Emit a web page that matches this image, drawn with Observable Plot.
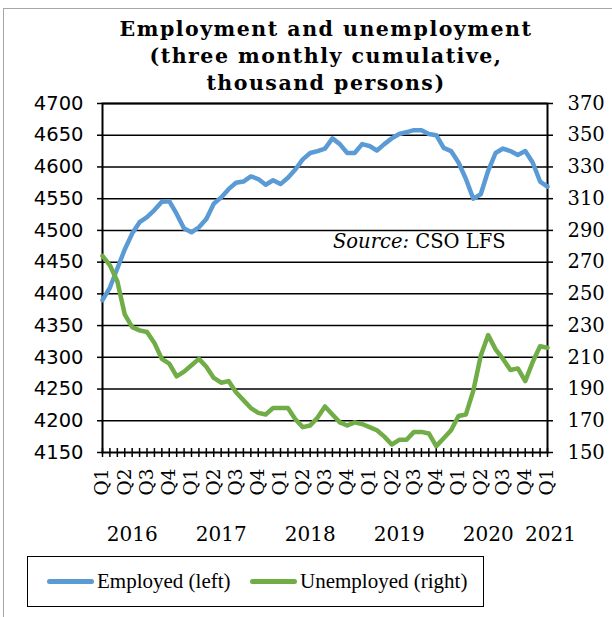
<!DOCTYPE html>
<html><head><meta charset="utf-8">
<script src="https://cdn.jsdelivr.net/npm/d3@7"></script>
<script src="https://cdn.jsdelivr.net/npm/@observablehq/plot@0.6"></script>
<style>
html,body{margin:0;padding:0;background:#fff;overflow:hidden;}
#wrap{position:relative;width:612px;height:617px;overflow:hidden;background:#fff;}
#frame{position:absolute;left:3px;top:8px;width:700px;height:700px;border-left:1px solid #a6a6a6;border-top:1px solid #a6a6a6;}
#chart{position:absolute;left:0;top:0;}
#title{position:absolute;left:0;top:16px;width:652px;text-align:center;font-family:"DejaVu Serif";font-weight:bold;font-size:20.5px;letter-spacing:1.5px;line-height:27px;color:#000;}
#source{position:absolute;left:333px;top:230px;font-family:"DejaVu Serif";font-size:19.5px;color:#000;white-space:nowrap;}
#legend{position:absolute;left:27px;top:556px;width:455px;height:49px;border:1.5px solid #000;}
.item{position:absolute;top:0;height:49px;display:flex;align-items:center;font-family:"Liberation Serif";font-size:21px;color:#000;white-space:nowrap;}
.swatch{display:inline-block;width:47px;height:5px;border-radius:3px;margin-right:3px;}
</style></head>
<body>
<div id="wrap">
  <div id="frame"></div>
  <div id="chart"></div>
  <div id="title">Employment and unemployment<br>(three monthly cumulative,<br>thousand persons)</div>
  <div id="source"><i>Source:</i> CSO LFS</div>
  <div id="legend"></div>
</div>
<script>
// Monthly observations (three-month cumulative), Jan 2016 ... Jan 2021
const employed = [
  4390, 4410, 4440, 4470, 4495, 4513, 4521, 4532, 4545, 4546, 4526, 4503,
  4497, 4505, 4518, 4542, 4552, 4565, 4575, 4577, 4585, 4581, 4572, 4579,
  4573, 4583, 4596, 4612, 4622, 4625, 4629, 4645, 4636, 4622, 4622, 4636,
  4633, 4626, 4636, 4645, 4652, 4655, 4658, 4658, 4652, 4650, 4630, 4625,
  4607, 4581, 4550, 4557, 4594, 4622, 4629, 4625, 4619, 4625, 4607, 4577,
  4569
];
const unemployed = [
  274, 268, 258, 237, 229, 227, 226, 219, 209, 206, 198, 201,
  205, 209, 204, 197, 194, 195, 188, 183, 178, 175, 174, 178,
  178, 178, 171, 166, 167, 172, 179, 174, 169, 167, 169, 168,
  166, 164, 160, 155, 158, 158, 163, 163, 162, 154, 159, 164,
  173, 174, 189, 211, 224, 215, 209, 202, 203, 195, 207, 217,
  216
];
const quarterNames = ["Q1", "Q2", "Q3", "Q4"];
const years = ["2016", "2017", "2018", "2019", "2020", "2021"];
const leftTicks = [4150, 4200, 4250, 4300, 4350, 4400, 4450, 4500, 4550, 4600, 4650, 4700];
const rightTicks = [150, 170, 190, 210, 230, 250, 270, 290, 310, 330, 350, 370];
const seriesNames = ["Employed (left)", "Unemployed (right)"];
const seriesColors = ["#5B9BD5", "#70AD47"];

const startYear = 2016;
const rows = employed.map((e, i) => ({
  i, year: startYear + Math.floor(i / 12), month: i % 12,
  employed: e, unemployed: unemployed[i]
}));

// map right-axis values onto the left scale
const L0 = leftTicks[0], L1 = leftTicks[leftTicks.length - 1];
const R0 = rightTicks[0], R1 = rightTicks[rightTicks.length - 1];
const toLeft = u => L0 + (u - R0) * (L1 - L0) / (R1 - R0);
const toRight = l => R0 + (l - L0) * (R1 - R0) / (L1 - L0);

const quarterRows = rows.filter(d => d.month % 3 === 0)
  .map(d => ({i: d.i, label: quarterNames[d.month / 3]}));
// year labels: full years under their May category, the last (partial) year at its single month
const yearRows = years.map(y => {
  const ys = rows.filter(d => d.year === +y);
  const full = ys.length >= 12;
  return {label: y, i: full ? ys[0].i + 4 : ys[ys.length - 1].i, full};
});

const serif = "DejaVu Serif";
const chart = Plot.plot({
  width: 612,
  height: 617,
  marginLeft: 102,
  marginRight: 65,
  marginTop: 103,
  marginBottom: 165,
  style: {background: "transparent", color: "#000", overflow: "visible"},
  x: {domain: [0, rows.length - 1], axis: null},
  y: {domain: [L0, L1], axis: null},
  marks: [
    Plot.ruleY(leftTicks.slice(1), {stroke: "#000", strokeWidth: 1.5}),
    Plot.axisY({anchor: "left", ticks: leftTicks, tickSize: 5, tickPadding: 14,
      tickFormat: d => String(d), fontSize: 19.5, fontFamily: "DejaVu Sans", strokeWidth: 1.5, label: null}),
    Plot.axisY({anchor: "right", ticks: leftTicks, tickSize: 5, tickPadding: 15,
      tickFormat: d => String(Math.round(toRight(d))), fontSize: 19.5, fontFamily: serif, strokeWidth: 1.5, label: null}),
    Plot.frame({stroke: "#000", strokeWidth: 2}),
    Plot.ruleX(rows, {x: "i", y1: () => L0, y2: () => L0, insetTop: -4, insetBottom: -5, stroke: "#000", strokeWidth: 1.5}),
    Plot.line(rows, {x: "i", y: "employed", stroke: seriesColors[0], strokeWidth: 4.5, strokeLinejoin: "round", strokeLinecap: "round"}),
    Plot.line(rows, {x: "i", y: d => toLeft(d.unemployed), stroke: seriesColors[1], strokeWidth: 4.5, strokeLinejoin: "round", strokeLinecap: "round"}),
    Plot.text(quarterRows, {x: "i", text: "label", frameAnchor: "bottom", rotate: -90, textAnchor: "end",
      lineAnchor: "middle", dy: 16, fontSize: 18.5, fontFamily: serif, fill: "#000"}),
    Plot.text(yearRows.filter(d => d.full), {x: "i", text: "label", frameAnchor: "bottom", lineAnchor: "middle", dy: 82,
      fontSize: 20, fontFamily: serif, fill: "#000"}),
    Plot.text(yearRows.filter(d => !d.full), {x: "i", text: "label", frameAnchor: "bottom", lineAnchor: "middle", dy: 82, dx: 3,
      fontSize: 20, fontFamily: serif, fill: "#000"})
  ]
});
document.getElementById("chart").appendChild(chart);

// legend
const legend = document.getElementById("legend");
const offsets = [19, 222];
seriesNames.forEach((name, k) => {
  const item = document.createElement("div");
  item.className = "item";
  item.style.left = offsets[k] + "px";
  const sw = document.createElement("span");
  sw.className = "swatch";
  sw.style.background = seriesColors[k];
  item.appendChild(sw);
  item.appendChild(document.createTextNode(name));
  legend.appendChild(item);
});
</script>
</body></html>
